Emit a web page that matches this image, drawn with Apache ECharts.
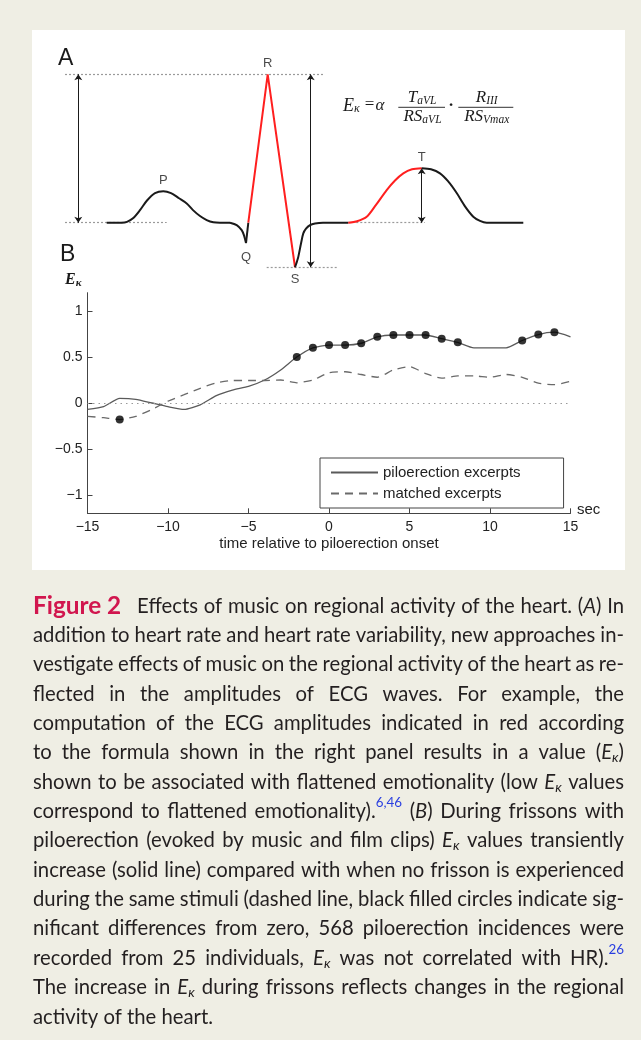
<!DOCTYPE html>
<html><head><meta charset="utf-8">
<script src="https://cdn.jsdelivr.net/npm/echarts@6/dist/echarts.min.js"></script>
<style>html,body{margin:0;padding:0;background:#efeee4}#c{width:641px;height:1040px}</style>
</head><body><div id="c"></div>
<script>
// ---------- Panel B data ----------
const timeSec = [-15,-14,-13,-12,-11,-10,-9,-8,-7,-6,-5,-4,-3,-2,-1,0,1,2,3,4,5,6,7,8,9,10,11,12,13,14,15];
const piloerection = [-0.07,-0.04,0.05,0.04,0.0,-0.04,-0.07,-0.02,0.08,0.14,0.18,0.25,0.36,0.50,0.60,0.63,0.63,0.65,0.72,0.74,0.74,0.74,0.70,0.66,0.60,0.60,0.60,0.68,0.745,0.77,0.72];
const matched = [-0.145,-0.16,-0.18,-0.145,-0.07,0.02,0.09,0.16,0.22,0.245,0.245,0.245,0.25,0.22,0.25,0.33,0.34,0.31,0.28,0.36,0.395,0.32,0.27,0.295,0.295,0.28,0.31,0.28,0.215,0.20,0.235];
const sigPilo = [-2,-1,0,1,2,3,4,5,6,7,8,12,13,14];
const sigMatched = [-13];
const yTicks = [-1,-0.5,0,0.5,1];
const xTicks = [-15,-10,-5,0,5,10,15];
const seriesNames = ['piloerection excerpts','matched excerpts'];

// ---------- Panel A (schematic ECG, x in px-like units, amplitude relative to R) ----------
const ecgPWave = [[41.7,0],[56.7,0],[62,0.006],[68,0.03],[75,0.085],[82,0.15],[90,0.2],[98.3,0.213],[106,0.2],[114,0.165],[121.7,0.13],[128,0.085],[135,0.045],[141.7,0.018],[148.3,0.003],[155,0],[165,0]];
const ecgQDip = [[165,0],[171.7,-0.016],[176.7,-0.05],[179,-0.085],[181,-0.137]];
const ecgQUp = [[181,-0.137],[183.3,0]];
const ecgQRS = [[183.3,0],[202.7,1.0],[230,-0.3]];
const ecgSRecovery = [[230,-0.3],[232,-0.26],[233.3,-0.23],[236,-0.14],[238.3,-0.072],[241,-0.04],[245,-0.016],[250,-0.005],[258,0],[283.3,0]];
const ecgTRise = [[283.3,0],[292,0.01],[301.7,0.04],[311,0.12],[321.7,0.22],[330,0.285],[338.3,0.333],[347,0.36],[356.7,0.367]];
const ecgTFall = [[356.7,0.367],[366,0.36],[375,0.333],[383,0.28],[391.7,0.2],[400,0.11],[408.3,0.04],[415,0.012],[421.7,0],[458.3,0]];
const ecgWaveNames = ['P','Q','R','S','T'];
const ecgWavePoints = [[98.3,0.213],[181,-0.137],[202.7,1.0],[230,-0.3],[356.7,0.367]];
const ecgArrows = [[[13.3,1.0],[13.3,0]],[[245.7,1.0],[245.7,-0.3]],[[356.7,0.367],[356.7,0]]];
const ecgGuides = [[[0,1],[260,1]],[[0,0],[101.7,0]],[[283.3,0],[360,0]],[[201.7,-0.3],[271.7,-0.3]]];

// ---------- Caption ----------
const captionLines = [
 "{b|Figure\u00a02}\u2002 Effects of music on regional activity of the heart. ({i|A}) In",
 "addition to heart rate and heart rate variability, new approaches in-",
 "vestigate effects of music on the regional activity of the heart as re-",
 "flected in the amplitudes of ECG waves. For example, the",
 "computation of the ECG amplitudes indicated in red according",
 "to the formula shown in the right panel results in a value ({i|E}{s|κ})",
 "shown to be associated with flattened emotionality (low {i|E}{s|κ} values",
 "correspond to flattened emotionality).{u|6,46} ({i|B}) During frissons with",
 "piloerection (evoked by music and film clips) {i|E}{s|κ} values transiently",
 "increase (solid line) compared with when no frisson is experienced",
 "during the same stimuli (dashed line, black filled circles indicate sig-",
 "nificant differences from zero, 568 piloerection incidences were",
 "recorded from 25 individuals, {i|E}{s|κ} was not correlated with HR).{u|26}",
 "The increase in {i|E}{s|κ} during frissons reflects changes in the regional",
 "activity of the heart."
];

const ctx = document.createElement('canvas').getContext('2d');
function measure(font, text){ ctx.font = font; return ctx.measureText(text).width; }
const CAP_FAM = "Lato";
let base = 21;
base = 21 * 180 / measure(base + 'px ' + CAP_FAM, 'activity of the heart.');
let bk = 95 / measure('bold ' + base + 'px ' + CAP_FAM, 'Figure\u00a02');
bk = Math.min(1.2, bk);
const capStyles = {
  n:{it:false,bold:false,k:1,dy:0,fill:'#231f20'},
  i:{it:true,bold:false,k:1,dy:0,fill:'#231f20'},
  s:{it:true,bold:false,k:0.68,dy:5,fill:'#231f20'},
  u:{it:false,bold:false,k:0.66,dy:-9,fill:'#2a3fe0'},
  b:{it:false,bold:true,k:bk,dy:0,fill:'#d1164e'}
};
function capFont(st){ return (st.it?'italic ':'') + (st.bold?'bold ':'') + (base*st.k).toFixed(2) + 'px ' + CAP_FAM; }
function parseWord(w){
  const segs=[]; const re=/\{(\w)\|([^}]*)\}/g; let last=0,m;
  while((m=re.exec(w))){ if(m.index>last) segs.push(['n',w.slice(last,m.index)]); segs.push([m[1],m[2]]); last=re.lastIndex; }
  if(last<w.length) segs.push(['n',w.slice(last)]);
  return segs;
}
const graphics = [];
graphics.push({type:'rect', z:-10, shape:{x:32,y:30,width:593,height:540}, style:{fill:'#ffffff'}});
const CAP_LEFT=33, CAP_RIGHT=624, CAP_TOP=606, CAP_LH=29.36;
captionLines.forEach((line, li)=>{
  const words = line.split(' ').map(parseWord);
  const widths = words.map(ws=>ws.reduce((a,[k,t])=>a+measure(capFont(capStyles[k]),t),0));
  const total = widths.reduce((a,b)=>a+b,0);
  const justify = li < captionLines.length-1;
  const space = justify ? (CAP_RIGHT-CAP_LEFT-total)/(words.length-1) : measure(capFont(capStyles.n),' ');
  let x = CAP_LEFT; const y = CAP_TOP + li*CAP_LH;
  words.forEach((ws,wi)=>{
    ws.forEach(([k,t])=>{
      const st = capStyles[k]; const f = capFont(st);
      graphics.push({type:'text', x:x, y:y+st.dy, style:{text:t, font:f, fill:st.fill, align:'left', verticalAlign:'middle'}});
      x += measure(f,t);
    });
    x += space;
  });
});

// formula and labels
const SERIF = "'Liberation Serif'";
function runText(segs, x, y, align){
  const ws = segs.map(s=>measure(s.f, s.t));
  const tot = ws.reduce((a,b)=>a+b,0);
  let cx = align==='center' ? x - tot/2 : x;
  segs.forEach((s,i)=>{ graphics.push({type:'text', x:cx, y:y+(s.dy||0), style:{text:s.t, font:s.f, fill:'#1a1a1a', align:'left', verticalAlign:'middle'}}); cx += ws[i]; });
}
const fBig = 'italic 18px '+SERIF, fMid='italic 17px '+SERIF, fSub='italic 11.5px '+SERIF;
runText([{t:'E',f:fBig},{t:'κ',f:'italic 12px '+SERIF,dy:3}], 343, 106, 'left');
runText([{t:'=',f:'17px '+SERIF}], 369.5, 105, 'center');
runText([{t:'α',f:'italic 17px '+SERIF}], 380, 106, 'center');
runText([{t:'T',f:fMid},{t:'aVL',f:fSub,dy:3}], 422, 97.5, 'center');
runText([{t:'RS',f:fMid},{t:'aVL',f:fSub,dy:3}], 422.5, 116.5, 'center');
runText([{t:'·',f:'bold 17px '+SERIF}], 451, 106, 'center');
runText([{t:'R',f:fMid},{t:'III',f:fSub,dy:3}], 486.7, 97.5, 'center');
runText([{t:'RS',f:fMid},{t:'Vmax',f:fSub,dy:3}], 486.7, 116.5, 'center');
graphics.push({type:'line', shape:{x1:398.3,y1:107.3,x2:445,y2:107.3}, style:{stroke:'#1a1a1a',lineWidth:0.9}});
graphics.push({type:'line', shape:{x1:458.3,y1:107.3,x2:513.3,y2:107.3}, style:{stroke:'#1a1a1a',lineWidth:0.9}});
graphics.push({type:'text', x:58, y:59, style:{text:'A', font:"23px 'Liberation Sans'", fill:'#1a1a1a', verticalAlign:'middle'}});
graphics.push({type:'text', x:60, y:255, style:{text:'B', font:"23px 'Liberation Sans'", fill:'#1a1a1a', verticalAlign:'middle'}});
runText([{t:'E',f:'bold italic 16px '+SERIF},{t:'κ',f:'bold italic 11px '+SERIF,dy:3}], 65, 280, 'left');
graphics.push({type:'text', x:577, y:510, style:{text:'sec', font:"15px 'Liberation Sans'", fill:'#222', verticalAlign:'middle'}});

// ---------- Build series ----------
const pairs = (xs, ys)=>xs.map((x,i)=>[x,ys[i]]);
const sigPts = (sig, ys)=>sig.map(t=>[t, ys[timeSec.indexOf(t)]]);
const minus = v=>String(v).replace('-', '\u2212');
const ecgLine = (data, color, smooth)=>({type:'line', xAxisIndex:1, yAxisIndex:1, data, symbol:'none', smooth:smooth, silent:true,
   lineStyle:{color, width:2}, z:5});

const option = {
  backgroundColor:'#efeee4',
  animation:false,
  graphic: graphics,
  legend:{
    orient:'vertical', left:320, top:458, padding:[7,43,7,10], itemWidth:47, itemHeight:14, itemGap:6,
    borderColor:'#444', borderWidth:1, backgroundColor:'#fff', borderRadius:0,
    itemStyle:{opacity:0},
    textStyle:{fontSize:15, fontFamily:'Liberation Sans', color:'#222'},
    data: seriesNames
  },
  grid:[
    {left:87.5, top:292.7, width:483, height:220.6, outerBoundsMode:'none', containLabel:false},
    {left:65, top:59.5, width:460, height:222.6, outerBoundsMode:'none', containLabel:false}
  ],
  xAxis:[
    {type:'value', gridIndex:0, min:-15, max:15, interval:5,
     axisLine:{show:true, onZero:false, lineStyle:{color:'#444', width:1}},
     axisTick:{show:true, inside:true, length:5, lineStyle:{color:'#444'}},
     axisLabel:{color:'#222', fontSize:14, fontFamily:'Liberation Sans', margin:7, formatter:minus},
     splitLine:{show:false},
     name:'time relative to piloerection onset', nameLocation:'middle', nameGap:23,
     nameTextStyle:{color:'#222', fontSize:15, fontFamily:'Liberation Sans'}},
    {type:'value', gridIndex:1, min:0, max:460, show:false}
  ],
  yAxis:[
    {type:'value', gridIndex:0, min:-1.2, max:1.2,
     axisLine:{show:true, onZero:false, lineStyle:{color:'#444', width:1}},
     axisTick:{show:true, inside:true, length:5, customValues:yTicks, lineStyle:{color:'#444'}},
     axisLabel:{color:'#222', fontSize:14, fontFamily:'Liberation Sans', margin:5, customValues:yTicks, formatter:minus},
     splitLine:{show:false}},
    {type:'value', gridIndex:1, min:-0.4, max:1.1, show:false}
  ],
  series:[
    {name:seriesNames[0], type:'line', data:pairs(timeSec, piloerection), symbol:'none', smooth:0.2,
     lineStyle:{color:'#5a5a5a', width:1.3}, itemStyle:{color:'#5a5a5a'},
     markLine:{silent:true, symbol:'none', label:{show:false}, lineStyle:{color:'#999', type:[1.5,4], width:1.2}, data:[{yAxis:0}]}, z:3},
    {name:seriesNames[1], type:'line', data:pairs(timeSec, matched), symbol:'none', smooth:0.2,
     lineStyle:{color:'#6a6a6a', width:1.3, type:[8,6]}, itemStyle:{color:'#6a6a6a'}, z:3},
    {type:'scatter', data:sigPts(sigPilo, piloerection).concat(sigPts(sigMatched, matched)), symbol:'circle', symbolSize:8,
     itemStyle:{color:'#000'}, z:4, silent:true},
    // ECG guides & arrows
    {type:'lines', coordinateSystem:'cartesian2d', xAxisIndex:1, yAxisIndex:1, symbol:'none', silent:true,
     lineStyle:{color:'#9a9a9a', width:1.2, type:[2,2], opacity:1}, data:ecgGuides.map(c=>({coords:c})), z:3},
    {type:'lines', coordinateSystem:'cartesian2d', xAxisIndex:1, yAxisIndex:1, symbol:['arrow','arrow'], symbolSize:6, silent:true,
     lineStyle:{color:'#1a1a1a', width:1, opacity:1}, data:ecgArrows.map(c=>({coords:c})), z:4},
    ecgLine(ecgPWave,'#1a1a1a',0.3),
    ecgLine(ecgQDip,'#1a1a1a',0.3),
    ecgLine(ecgQUp,'#1a1a1a',false),
    ecgLine(ecgQRS,'#ff1f1f',false),
    ecgLine(ecgSRecovery,'#1a1a1a',0.3),
    ecgLine(ecgTRise,'#ff1f1f',0.3),
    ecgLine(ecgTFall,'#1a1a1a',0.3),
    {type:'scatter', xAxisIndex:1, yAxisIndex:1, symbolSize:0, silent:true, z:6,
     data: ecgWavePoints.map((p,i)=>({value:p, name:ecgWaveNames[i],
        label:{show:true, formatter:ecgWaveNames[i], position:(ecgWaveNames[i]==='Q'||ecgWaveNames[i]==='S')?'bottom':'top',
               distance:(ecgWaveNames[i]==='Q')?8:(ecgWaveNames[i]==='S'?6:4),
               color:'#1a1a1a', fontSize:13, fontFamily:'Liberation Sans'}}))}
  ]
};
const chart = echarts.init(document.getElementById('c'));
chart.setOption(option);
</script></body></html>
